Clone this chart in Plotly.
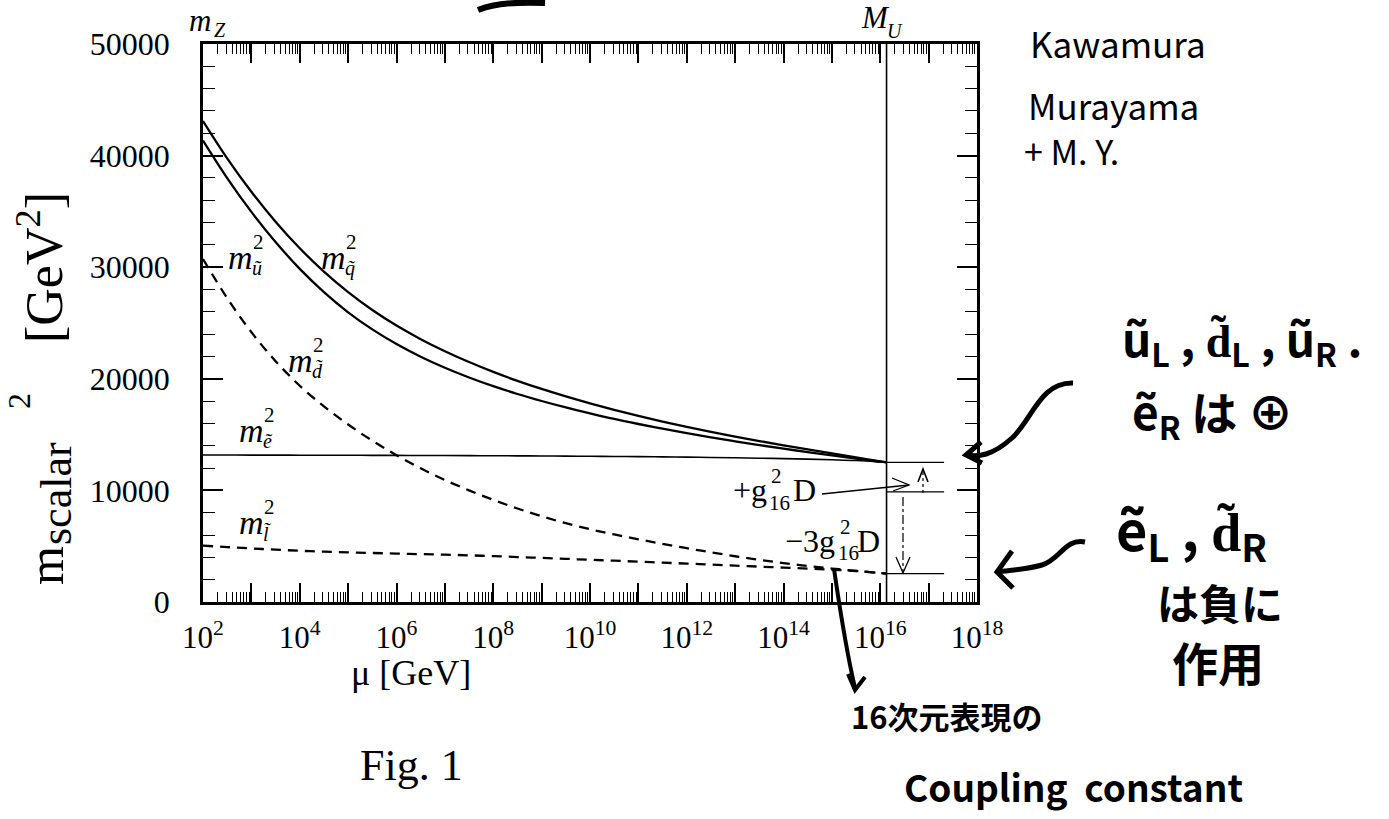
import plotly.graph_objects as go

# ---------------------------------------------------------------
# Running of the scalar masses squared, log10(mu / GeV) grid
# ---------------------------------------------------------------
log_mu = [2.0, 2.5, 3.0, 3.5, 4.0, 4.5, 5.0, 5.5, 6.0, 6.5, 7.0, 7.5,
          8.0, 8.5, 9.0, 9.5, 10.0, 10.5, 11.0, 11.5, 12.0, 12.5, 13.0,
          13.5, 14.0, 14.5, 15.0, 15.5, 16.0, 16.13]

m2_q = [43100, 39760, 36760, 34080, 31700, 29600, 27760, 26160, 24770,
        23550, 22470, 21500, 20620, 19820, 19090, 18420, 17800, 17220,
        16680, 16170, 15690, 15240, 14820, 14420, 14040, 13670, 13310,
        12960, 12610, 12520]
m2_u = [41350, 37990, 34960, 32260, 29850, 27770, 25960, 24430, 23120,
        21980, 20990, 20120, 19340, 18640, 18010, 17430, 16900, 16400,
        15950, 15525, 15130, 14750, 14400, 14060, 13740, 13430, 13130,
        12850, 12570, 12520]
m2_e = [13170, 13167, 13164, 13160, 13156, 13152, 13147, 13142, 13136,
        13130, 13123, 13115, 13106, 13096, 13085, 13072, 13058, 13042,
        13024, 13003, 12980, 12953, 12922, 12887, 12847, 12800, 12745,
        12680, 12560, 12520]
m2_d = [30730, 27230, 24180, 21580, 19380, 17530, 15905, 14455, 13155,
        11980, 10930, 10000, 9150, 8380, 7680, 7060, 6520, 6050, 5620,
        5210, 4820, 4450, 4100, 3780, 3490, 3230, 3000, 2790, 2590, 2540]
m2_l = [5050, 4920, 4800, 4690, 4590, 4510, 4450, 4390, 4340, 4290,
        4240, 4180, 4110, 4030, 3950, 3870, 3780, 3700, 3610, 3530, 3440,
        3350, 3260, 3170, 3080, 2990, 2890, 2780, 2600, 2540]

# unification scale and the D-term split of the 16 at M_U
log_MU = 16.13
log_mark_end = 17.32
m2_16_plus = 12520      # m16^2 + g16^2 D
m2_16 = 9860            # m16^2
m2_16_minus = 2540      # m16^2 - 3 g16^2 D

# axis ticks
x_decades = list(range(2, 19))
x_labels = [f"10<sup>{d}</sup>" if d % 2 == 0 else "" for d in x_decades]
y_major = [0, 10000, 20000, 30000, 40000, 50000]

SERIF = "Liberation Serif"
HAND = "Noto Sans CJK JP"
W, H = 1389, 819
L, R, T, B = 203, 977, 44, 602


def px(x):
    return (x - L) / (R - L)


def py(y):
    return (B - y) / (B - T)


xs = [10 ** v for v in log_mu]
fig = go.Figure()

line_solid = dict(color="black", width=2.3)
line_dash = dict(color="black", width=2.3, dash="10px,7px")

fig.add_trace(go.Scatter(x=xs, y=m2_q, mode="lines", line=line_solid,
                         line_shape="spline", name="q"))
fig.add_trace(go.Scatter(x=xs, y=m2_u, mode="lines", line=line_solid,
                         line_shape="spline", name="u"))
fig.add_trace(go.Scatter(x=xs, y=m2_e, mode="lines",
                         line=dict(color="black", width=1.6),
                         line_shape="spline", name="e"))
fig.add_trace(go.Scatter(x=xs, y=m2_d, mode="lines", line=line_dash,
                         line_shape="spline", name="d"))
fig.add_trace(go.Scatter(x=xs, y=m2_l, mode="lines", line=line_dash,
                         line_shape="spline", name="l"))

# vertical line at M_U
fig.add_trace(go.Scatter(x=[10 ** log_MU, 10 ** log_MU], y=[0, 50000],
                         mode="lines", line=dict(color="black", width=1.6)))
# horizontal marks of the D-term split
for v in (m2_16_plus, m2_16, m2_16_minus):
    fig.add_trace(go.Scatter(x=[10 ** log_MU, 10 ** log_mark_end], y=[v, v],
                             mode="lines", line=dict(color="black", width=1.2)))

annotations = []


def txt(x, y, s, size=30, family=SERIF, anchor="left", va="middle",
        angle=0, color="black"):
    annotations.append(dict(x=px(x), y=py(y), xref="paper", yref="paper",
                            text=s, showarrow=False, textangle=angle,
                            font=dict(family=family, size=size, color=color),
                            xanchor=anchor, yanchor=va))


def mlabel(x, y, sub):
    # italic m with stacked superscript 2 and subscript
    txt(x, y, "<i>m</i>", 34)
    txt(x + 25, y - 15, "2", 21)
    txt(x + 24, y + 11, f"<i>{sub}</i>", 20)


mlabel(319, 257, "q\u0303")
mlabel(226, 257, "\u0169")
mlabel(286, 360, "d\u0303")
mlabel(237, 430, "\u1ebd")
mlabel(237, 522, "l\u0303")

# scale markers on top
txt(187, 20, "<i>m</i>", 31)
txt(212, 30, "<i>Z</i>", 20)
txt(859, 18, "<i>M</i>", 31)
txt(885, 31, "<i>U</i>", 20)

# D-term labels
txt(769, 490, "+g", 32, anchor="right")
txt(769, 476, "2", 21)
txt(767, 503, "16", 21)
txt(791, 490, "D", 32)
txt(837, 541, "\u22123g", 32, anchor="right")
txt(838, 527, "2", 21)
txt(836, 553, "16", 21)
txt(855, 541, "D", 32)

# y-axis title, rotated, built from its pieces
txt(46, 566, "m", 50, anchor="center", angle=-90)
txt(56, 494, "scalar", 44, anchor="center", angle=-90)
txt(19, 401, "2", 32, anchor="center", angle=-90)
txt(40, 268, "[GeV<sup>2</sup>]", 52, anchor="center", angle=-90)

# x-axis title and caption
txt(411, 673, "\u03bc [GeV]", 36, anchor="center")
txt(411, 766, "Fig. 1", 44, anchor="center")

# handwritten notes
txt(1028, 42, "Kawamura", 35, family=HAND)
txt(1026, 105, "Murayama", 35, family=HAND)
txt(1022, 150, "+ M. Y.", 34, family=HAND)
txt(1120, 340, "<b>\u0169<sub>L</sub> , d\u0303<sub>L</sub> , \u0169<sub>R</sub> .</b>",
    46, family=HAND)
txt(1130, 413, "<b>\u1ebd<sub>R</sub> \u306f \u2295</b>", 46, family=HAND)
txt(1114, 530, "<b>\u1ebd<sub>L</sub> , d\u0303<sub>R</sub></b>", 54, family=HAND)
txt(1155, 601, "<b>\u306f\u8ca0\u306b</b>", 42, family=HAND)
txt(1170, 661, "<b>\u4f5c\u7528</b>", 46, family=HAND)
txt(849, 715, "<b>16\u6b21\u5143\u8868\u73fe\u306e</b>", 31, family=HAND)
txt(902, 786, "<b>Coupling  constant</b>", 37, family=HAND)

shapes = []


def path(points_cmd, width=1.2, dash="solid"):
    shapes.append(dict(type="path", xref="paper", yref="paper",
                       path=points_cmd, line=dict(color="black", width=width,
                                                  dash=dash)))


def P(x, y):
    return f"{px(x):.5f},{py(y):.5f}"


# arrow from +g^2 D label to the split
path(f"M{P(822, 494)} L{P(909, 485)}", 1.3)
path(f"M{P(892, 478)} L{P(909, 485)} L{P(893, 491)}", 1.3)
# up arrow (g^2 D)
path(f"M{P(923, 493)} L{P(923, 472)}", 1.2, "dot")
path(f"M{P(918, 482)} L{P(923, 469)} L{P(928, 482)}", 1.6)
# down arrow (3 g^2 D)
path(f"M{P(903, 497)} L{P(903, 572)}", 1.2, "dashdot")
path(f"M{P(896, 557)} L{P(903, 573)} L{P(910, 557)}", 1.3)

# handwritten strokes
path(f"M{P(1073, 383)} C{P(1040, 382)} {P(1032, 420)} {P(1012, 438)} "
     f"S{P(978, 457)} {P(967, 455)}", 5)
path(f"M{P(981, 442)} L{P(966, 455)} L{P(982, 463)}", 5)
path(f"M{P(1085, 542)} C{P(1065, 538)} {P(1060, 560)} {P(1042, 565)} "
     f"S{P(1010, 570)} {P(997, 572)}", 5)
path(f"M{P(1012, 551)} L{P(997, 572)} L{P(1013, 588)}", 5)
path(f"M{P(834, 569)} C{P(840, 610)} {P(846, 650)} {P(855, 688)}", 4)
path(f"M{P(848, 674)} L{P(855, 690)} L{P(865, 677)}", 4)
path(f"M{P(478, 10)} Q{P(500, 1)} {P(545, 3)}", 6)

fig.update_layout(
    width=W, height=H,
    margin=dict(l=L, r=W - R, t=T, b=H - B),
    paper_bgcolor="white", plot_bgcolor="white",
    showlegend=False,
    annotations=annotations,
    shapes=shapes,
    xaxis=dict(
        type="log", range=[2, 18],
        tickvals=[10 ** d for d in x_decades], ticktext=x_labels,
        ticks="inside", ticklen=19, tickwidth=1.5, tickcolor="black",
        minor=dict(tickvals=[k * 10 ** d for d in range(2, 18)
                             for k in range(2, 10)],
                   ticks="inside", ticklen=10, tickwidth=1.2,
                   tickcolor="black", showgrid=False),
        showline=True, linewidth=2.5, linecolor="black", mirror="allticks",
        showgrid=False, zeroline=False,
        tickfont=dict(family=SERIF, size=31, color="black"),
        ticklabelstandoff=6,
    ),
    yaxis=dict(
        range=[0, 50000], tickvals=y_major,
        ticktext=[str(v) for v in y_major],
        ticks="inside", ticklen=20, tickwidth=1.5, tickcolor="black",
        minor=dict(dtick=2000, ticks="inside", ticklen=12, tickwidth=1.2,
                   tickcolor="black", showgrid=False),
        showline=True, linewidth=2.5, linecolor="black", mirror="allticks",
        showgrid=False, zeroline=False,
        tickfont=dict(family=SERIF, size=32, color="black"),
        ticklabelstandoff=24,
    ),
)

fig.write_html("out.html")
